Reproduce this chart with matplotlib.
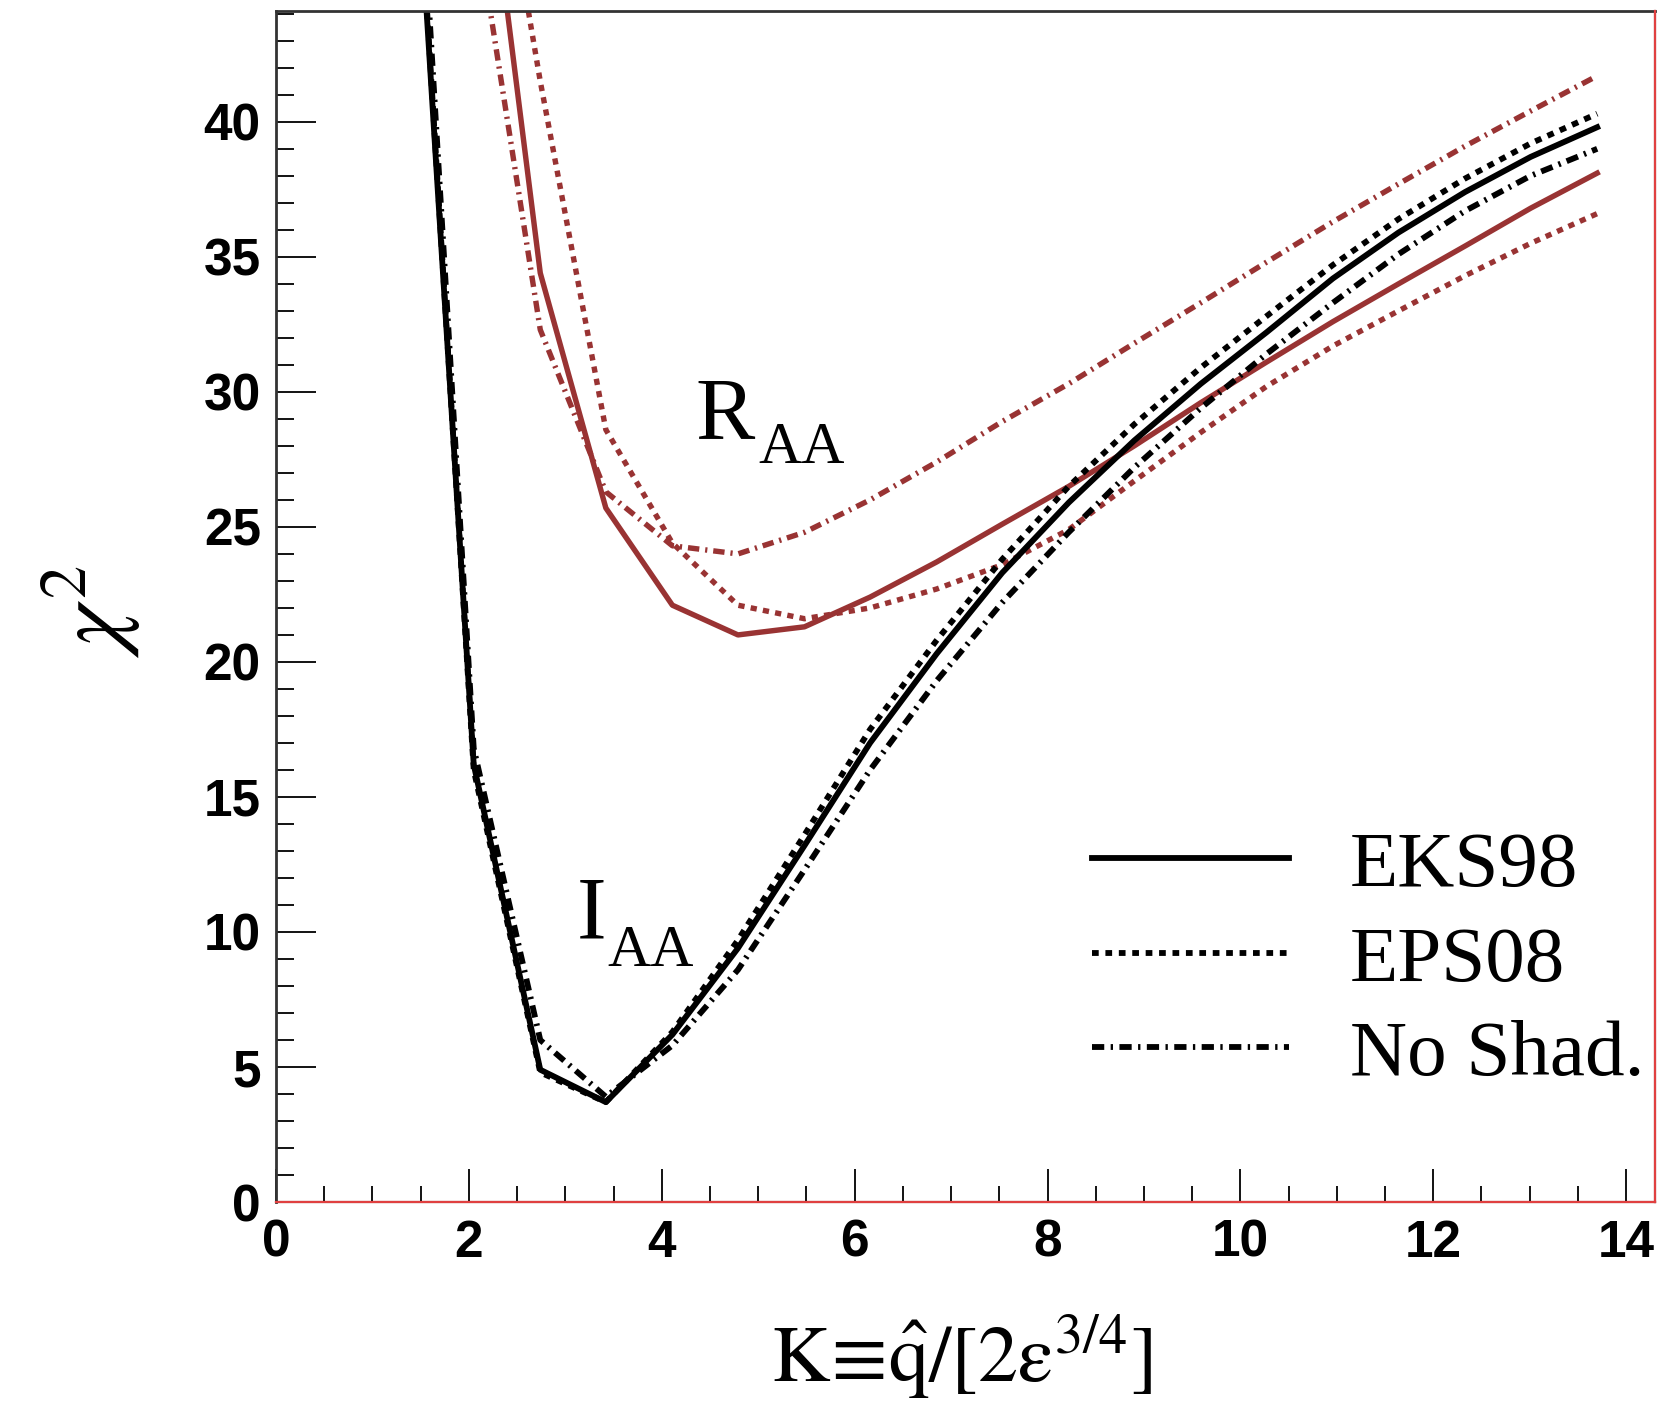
import matplotlib
matplotlib.use('Agg')
import matplotlib.pyplot as plt
from matplotlib.ticker import MultipleLocator

# ---- data ----
K = [1.37, 2.05, 2.74, 3.42, 4.11, 4.79, 5.48, 6.16, 6.85, 7.53,
     8.22, 8.90, 9.59, 10.27, 10.96, 11.64, 12.33, 13.01, 13.70]

iaa_eks98 = [55.0, 16.2, 4.9, 3.7, 6.2, 9.4, 13.2, 17.0, 20.3, 23.3,
             25.9, 28.2, 30.3, 32.2, 34.2, 35.9, 37.4, 38.7, 39.8]
iaa_eps08 = [55.5, 16.0, 4.8, 3.7, 6.3, 9.7, 13.6, 17.5, 20.8, 23.8,
             26.5, 28.8, 30.9, 32.8, 34.7, 36.4, 37.9, 39.2, 40.3]
iaa_noshad = [57.0, 16.8, 6.0, 3.9, 5.8, 8.6, 12.3, 16.0, 19.3, 22.2,
              24.8, 27.2, 29.4, 31.4, 33.3, 35.1, 36.7, 38.0, 39.0]

raa_eks98 = [95.0, 54.0, 34.4, 25.7, 22.1, 21.0, 21.3, 22.4, 23.7, 25.1,
             26.5, 28.0, 29.6, 31.1, 32.6, 34.0, 35.4, 36.8, 38.1]
raa_eps08 = [90.0, 56.0, 41.5, 28.6, 24.4, 22.1, 21.6, 22.0, 22.7, 23.6,
             24.9, 26.7, 28.5, 30.2, 31.7, 33.0, 34.3, 35.5, 36.6]
raa_noshad = [90.0, 48.0, 32.3, 26.3, 24.3, 24.0, 24.8, 26.0, 27.4, 28.9,
              30.3, 31.8, 33.3, 34.8, 36.3, 37.7, 39.1, 40.4, 41.7]

series_labels = ['EKS98', 'EPS08', 'No Shad.']
x_tick_values = [0, 2, 4, 6, 8, 10, 12, 14]
y_tick_values = [0, 5, 10, 15, 20, 25, 30, 35, 40]

# ---- style ----
RED = '#993333'
LW_RED = 3.9
LW_BLACK = 4.2
SOLID = '-'
DOTTED = (0, (1.15, 1.15))
DASHDOT = (0, (2.1, 1.1, 0.4, 1.1))
SERIF = 'Liberation Serif'

plt.rcParams['mathtext.fontset'] = 'stix'

fig = plt.figure(figsize=(16.76, 14.01), dpi=100)
ax = fig.add_axes([0.1647, 0.142, 0.8228, 0.8501])

ax.plot(K, raa_eks98, color=RED, lw=LW_RED, ls=SOLID)
ax.plot(K, raa_eps08, color=RED, lw=LW_RED, ls=DOTTED)
ax.plot(K, raa_noshad, color=RED, lw=LW_RED, ls=DASHDOT)

h1, = ax.plot(K, iaa_eks98, color='black', lw=LW_BLACK, ls=SOLID, label=series_labels[0])
h2, = ax.plot(K, iaa_eps08, color='black', lw=LW_BLACK, ls=DOTTED, label=series_labels[1])
h3, = ax.plot(K, iaa_noshad, color='black', lw=LW_BLACK, ls=DASHDOT, label=series_labels[2])

ax.set_xlim(0, 14.3)
ax.set_ylim(0, 44.1)

ax.set_xticks(x_tick_values)
ax.set_yticks(y_tick_values)
ax.xaxis.set_minor_locator(MultipleLocator(0.5))
ax.yaxis.set_minor_locator(MultipleLocator(1))

ax.tick_params(axis='x', which='major', direction='in', length=24, width=1.3, pad=12)
ax.tick_params(axis='x', which='minor', direction='in', length=11.5, width=1.3)
ax.tick_params(axis='y', which='major', direction='in', length=29, width=1.3, pad=11)
ax.tick_params(axis='y', which='minor', direction='in', length=13, width=1.3)
ax.tick_params(top=False, right=False, which='both')

for lab in ax.get_xticklabels() + ax.get_yticklabels():
    lab.set_fontfamily('Liberation Sans')
    lab.set_fontweight('bold')
    lab.set_fontsize(37)

for side in ['top', 'left']:
    ax.spines[side].set_color('#333333')
    ax.spines[side].set_linewidth(2.0)
for side in ['bottom', 'right']:
    ax.spines[side].set_color('black')
    ax.spines[side].set_linewidth(1.5)
ax.axhline(0, color='#e04040', lw=1.6, clip_on=False, zorder=5)
ax.axvline(14.3, color='#e04040', lw=1.6, clip_on=False, zorder=5)

ax.set_xlabel(r'$\mathrm{K}\!\equiv\!\hat{\mathrm{q}}/[2\mathrm{ε}^{3/4}]$', fontsize=58, va='top')
ax.xaxis.set_label_coords(0.497, -0.093)
ax.set_ylabel(r'$\chi^{2}$', fontsize=68, va='center')
ax.yaxis.set_label_coords(-0.133, 0.496)

# curve-group labels: main letter plus lowered subscript
ax.text(4.35, 28.3, 'R', fontsize=64, family=SERIF, va='baseline', ha='left')
ax.annotate('AA', xy=(4.35, 28.3), xytext=(45, -18), textcoords='offset points',
            fontsize=43, family=SERIF, va='baseline', ha='left')
ax.text(3.12, 9.78, 'I', fontsize=64, family=SERIF, va='baseline', ha='left')
ax.annotate('AA', xy=(3.12, 9.78), xytext=(22, -20), textcoords='offset points',
            fontsize=43, family=SERIF, va='baseline', ha='left')

leg = ax.legend(handles=[h1, h2, h3], loc='upper left', bbox_to_anchor=(0.592, 0.312),
                frameon=False, borderaxespad=0, borderpad=0,
                handlelength=2.48, handletextpad=0.77, labelspacing=0.28,
                prop={'family': SERIF, 'size': 57})

fig.savefig('out.png', dpi=100)
